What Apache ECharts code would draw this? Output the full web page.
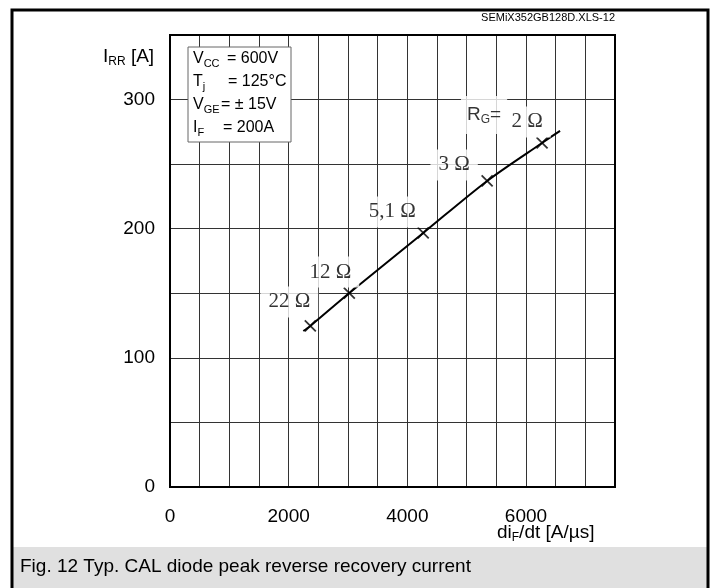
<!DOCTYPE html>
<html><head><meta charset="utf-8">
<script src="https://cdn.jsdelivr.net/npm/echarts@6/dist/echarts.min.js"></script>
<style>html,body{margin:0;padding:0;background:#fff}#c{width:717px;height:588px}</style>
</head><body><div id="c"></div>
<script>
// ---- data ----
const xTicks = [0, 2000, 4000, 6000];
const yTicks = [0, 100, 200, 300];
const rgLabels = ['22 Ω', '12 Ω', '5,1 Ω', '3 Ω', '2 Ω'];
const markX = [2365, 3022, 4268, 5345, 6271];
const markY = [124.7, 150.2, 196.7, 237, 266.4];
const curveX = [2247, 2365, 3022, 4268, 5345, 6271, 6574];
const curveY = [120.8, 124.7, 150.2, 196.7, 237, 266.4, 275.7];
const infoNames = [['V', 'CC'], ['T', 'j'], ['V', 'GE'], ['I', 'F']];
const infoValues = ['= 600V', '= 125°C', '= ± 15V', '= 200A'];

// ---- layout / style ----
const labelOffsets = [[-21, -24], [-19, -21], [-31, -21], [-33, -16], [-15, -21]];
const infoValueX = [227, 228, 221, 223];
const infoLineY = [59, 82, 105, 128];
const SANS = '"Liberation Sans", Arial, sans-serif';
const SERIF = '"Liberation Serif", "Times New Roman", serif';

const chart = echarts.init(document.getElementById('c'), null, {renderer: 'canvas'});

const graphics = [];
// caption band
graphics.push({type: 'rect', z: 1, shape: {x: 12, y: 547, width: 696, height: 60},
  style: {fill: '#e0e0e0', stroke: null}});
graphics.push({type: 'text', z: 101, x: 20, y: 567,
  style: {text: 'Fig. 12 Typ. CAL diode peak reverse recovery current', font: '19px ' + SANS,
    fill: '#000', textVerticalAlign: 'middle', verticalAlign: 'middle'}});
// outer frame
graphics.push({type: 'rect', z: 102, shape: {x: 12, y: 10, width: 696, height: 620},
  style: {fill: 'none', stroke: '#000', lineWidth: 3}});
// file id
graphics.push({type: 'text', z: 101, x: 615, y: 18,
  style: {text: 'SEMiX352GB128D.XLS-12', font: '11px ' + SANS, fill: '#000',
    align: 'right', textAlign: 'right', verticalAlign: 'middle', textVerticalAlign: 'middle'}});
// axis names
graphics.push({type: 'text', z: 101, x: 103, y: 57,
  style: {text: '{a|I}{s|RR}{a| [A]}', verticalAlign: 'middle', textVerticalAlign: 'middle',
    rich: {a: {font: '19px ' + SANS, fill: '#000', lineHeight: 22},
           s: {font: '12px ' + SANS, fill: '#000', lineHeight: 10, verticalAlign: 'bottom'}}}});
graphics.push({type: 'text', z: 101, x: 497, y: 533,
  style: {text: '{a|di}{s|F}{a|/dt [A/µs]}', verticalAlign: 'middle', textVerticalAlign: 'middle',
    rich: {a: {font: '19px ' + SANS, fill: '#000', lineHeight: 22},
           s: {font: '12px ' + SANS, fill: '#000', lineHeight: 10, verticalAlign: 'bottom'}}}});
// info box
graphics.push({type: 'rect', z: 100, shape: {x: 188, y: 47, width: 103, height: 95},
  style: {fill: '#fff', stroke: '#666', lineWidth: 1}});
infoNames.forEach(function (nm, i) {
  graphics.push({type: 'text', z: 101, x: 193, y: infoLineY[i],
    style: {text: '{a|' + nm[0] + '}{s|' + nm[1] + '}', verticalAlign: 'middle', textVerticalAlign: 'middle',
      rich: {a: {font: '16px ' + SANS, fill: '#000', lineHeight: 20},
             s: {font: '11px ' + SANS, fill: '#000', lineHeight: 10, verticalAlign: 'bottom'}}}});
  graphics.push({type: 'text', z: 101, x: infoValueX[i], y: infoLineY[i],
    style: {text: infoValues[i], font: '16px ' + SANS, fill: '#000',
      verticalAlign: 'middle', textVerticalAlign: 'middle'}});
});

const option = {
  animation: false,
  backgroundColor: '#fff',
  grid: {left: 170, right: 102, top: 35, bottom: 101, show: true,
    borderColor: '#000', borderWidth: 2, backgroundColor: 'transparent', z: 3},
  xAxis: {
    type: 'value', min: 0, max: 7500, interval: 500,
    axisLine: {show: false}, axisTick: {show: false},
    splitLine: {show: true, lineStyle: {color: '#333', width: 1}},
    axisLabel: {margin: 20, fontSize: 19, fontFamily: SANS, color: '#000',
      formatter: function (v) { return xTicks.indexOf(v) >= 0 ? String(v) : ''; }}
  },
  yAxis: {
    type: 'value', min: 0, max: 350, interval: 50,
    axisLine: {show: false}, axisTick: {show: false},
    splitLine: {show: true, lineStyle: {color: '#333', width: 1}},
    axisLabel: {margin: 15, fontSize: 19, fontFamily: SANS, color: '#000',
      formatter: function (v) { return yTicks.indexOf(v) >= 0 ? String(v) : ''; }}
  },
  series: [
    {
      type: 'line', z: 4, smooth: 0.3, symbol: 'none',
      lineStyle: {color: '#000', width: 2},
      data: curveX.map(function (x, i) { return [x, curveY[i]]; })
    },
    {
      type: 'scatter', z: 5,
      symbol: 'path://M0,0L10,10M10,0L0,10', symbolSize: 11,
      itemStyle: {color: 'transparent', borderColor: '#000', borderWidth: 1.8},
      data: markX.map(function (x, i) {
        return {value: [x, markY[i]],
          label: {show: true, position: 'inside', offset: labelOffsets[i], formatter: rgLabels[i],
            fontFamily: SERIF, fontSize: 21, color: '#000', textBorderWidth: 0, textBorderColor: 'transparent',
            backgroundColor: '#fff', padding: [5, 8]}};
      })
    },
    {
      type: 'scatter', z: 5, symbol: 'circle', symbolSize: 1, silent: true,
      itemStyle: {color: 'transparent'},
      data: [{value: [markX[4], markY[4]],
        label: {show: true, position: 'inside', offset: [-58, -28],
          formatter: '{a|R}{s|G}{a|=}', backgroundColor: '#fff', padding: [8, 6],
          textBorderWidth: 0, textBorderColor: 'transparent',
          rich: {a: {fontFamily: SANS, fontSize: 19, color: '#000', lineHeight: 22, textBorderWidth: 0},
                 s: {fontFamily: SANS, fontSize: 12, color: '#000', lineHeight: 10, verticalAlign: 'bottom', textBorderWidth: 0}}}}]
    }
  ],
  graphic: graphics
};
chart.setOption(option);
</script></body></html>
